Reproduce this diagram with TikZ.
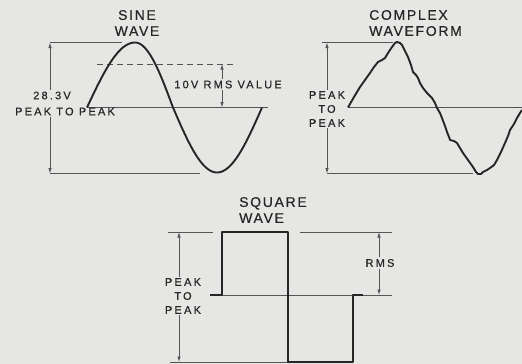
\documentclass[tikz,border=0pt]{standalone}
\usepackage{fontspec}
\setmainfont{Liberation Sans}[LetterSpace=20, FakeBold=0.4]
\usetikzlibrary{arrows.meta}
\definecolor{bg}{RGB}{230,230,228}
\definecolor{ink}{RGB}{38,38,38}
\definecolor{thinc}{RGB}{85,85,85}
\begin{document}
\begin{tikzpicture}[x=1pt,y=-1pt,
  wave/.style={ink, line width=1.9pt, line join=round},
  guide/.style={thinc, line width=0.8pt},
  dim/.style={thinc, line width=0.8pt, -{Latex[length=5.5pt,width=3.5pt]}},
  lbl/.style={text=ink, font=\fontsize{11}{14}\selectfont, inner sep=1.5pt, align=center},
  ttl/.style={text=ink, font=\fontsize{14}{16}\selectfont\addfontfeature{LetterSpace=12}, inner sep=0pt}]
\fill[bg] (0,0) rectangle (522,364);
\useasboundingbox (0,0) rectangle (522,364);
% ---------- sine wave ----------
\node[ttl, align=center] (sinet) at (137,23) {SINE\\WAVE};
\coordinate (sTopL) at (50,42.5); \coordinate (sTopR) at (122,42.5);
\coordinate (sBotL) at (50,173.5); \coordinate (sBotR) at (200,173.5);
\coordinate (sZ0) at (87,107.5); \coordinate (sZ1) at (268,107.5);
\coordinate (sD0) at (97,64); \coordinate (sD1) at (237,64);
\coordinate (sRmsT) at (222,64); \coordinate (sRmsB) at (222,107.5);
\draw[guide] (sTopL) -- (sTopR);
\draw[guide] (sBotL) -- (sBotR);
\draw[guide] (sZ0) -- (sZ1);
\draw[guide, dash pattern=on 6pt off 4pt] (sD0) -- (sD1);
\node[lbl] (v283) at (52,95.5) {28.3V};
\node[lbl] (ptp1) at (65,111.5) {PEAK TO PEAK};
\draw[dim] (v283.north -| sTopL) -- (sTopL);
\draw[dim] (ptp1.south -| sBotL) -- (sBotL);
\node[lbl] (rms10) at (228,84.5) {10V RMS VALUE};
\draw[dim] (rms10.north -| sRmsT) -- (sRmsT);
\draw[dim] (rms10.south -| sRmsB) -- (sRmsB);
\draw[wave] plot[domain=0:90,samples=30] ({87+\x*48/90},{107.5-65*sin(\x)})
  -- plot[domain=90:180,samples=30] ({135+(\x-90)*38/90},{107.5-65*sin(\x)})
  -- plot[domain=180:270,samples=30] ({173+(\x-180)*44/90},{107.5-65*sin(\x)})
  -- plot[domain=270:360,samples=30] ({217+(\x-270)*45/90},{107.5-65*sin(\x)});
% ---------- complex waveform ----------
\node[ttl, align=left, anchor=west] (cplxt) at (369,23) {COMPLEX\\WAVEFORM};
\coordinate (cTopL) at (322,42.5); \coordinate (cTopR) at (393,42.5);
\coordinate (cArrT) at (327,42.5);
\coordinate (cBotL) at (327,173.5); \coordinate (cBotR) at (473,173.5);
\coordinate (cZ0) at (348,107.5); \coordinate (cZ1) at (522,107.5);
\draw[guide] (cTopL) -- (cTopR);
\draw[guide] (cBotL) -- (cBotR);
\draw[guide] (cZ0) -- (cZ1);
\node[lbl] (ptp2) at (327,109) {PEAK\\TO\\PEAK};
\draw[dim] (ptp2.north -| cArrT) -- (cArrT);
\draw[dim] (ptp2.south -| cBotL) -- (cBotL);
\draw[wave] plot coordinates {(348,107.5) (354,97) (360,87) (365,80) (370,73) (374,67) (378,62) (382,60) (385,58)
  (388,53) (392,47) (395,43) (397,42) (400,43) (402,45) (405,51) (408,57) (411,65) (413,72) (416,75) (418,78)
  (420,83) (423,88) (427,93) (432,98) (435,103) (437,108) (440,113) (442,118) (445,126) (447,132) (449,137)
  (450,140) (454,141) (457,143) (460,148) (463,153) (468,160) (473,167) (476,172) (478,174) (481,174) (483,172)
  (487,170) (490,168) (494,165) (497,160) (501,152) (505,143) (508,136) (510,130) (514,124) (517,118) (520,113) (522,110)};
% ---------- square wave ----------
\node[ttl, align=left, anchor=west] (sqt) at (239,210) {SQUARE\\WAVE};
\coordinate (qTopA) at (168,232); \coordinate (qTopB) at (213,232);
\coordinate (qTopC) at (300,232); \coordinate (qTopD) at (392,232);
\coordinate (qArrT) at (179,232); \coordinate (qArrB) at (179,362);
\coordinate (qZ0) at (210,295); \coordinate (qZ1) at (392,295);
\coordinate (qBotL) at (170,362); \coordinate (qBotR) at (288,362);
\coordinate (qRmsT) at (379,232); \coordinate (qRmsB) at (379,295);
\draw[guide] (qTopA) -- (qTopB);
\draw[guide] (qTopC) -- (qTopD);
\draw[guide] (qZ0) -- (qZ1);
\draw[guide] (qBotL) -- (qBotR);
\node[lbl] (ptp3) at (183,296) {PEAK\\TO\\PEAK};
\draw[dim] (ptp3.north -| qArrT) -- (qArrT);
\draw[dim] (ptp3.south -| qArrB) -- (qArrB);
\node[lbl] (rmsq) at (380,263) {RMS};
\draw[dim] (rmsq.north -| qRmsT) -- (qRmsT);
\draw[dim] (rmsq.south -| qRmsB) -- (qRmsB);
\draw[wave] (210,295) -- (222,295) -- (222,232) -- (288,232) -- (288,362) -- (353,362) -- (353,295) -- (363,295);
\end{tikzpicture}
\end{document}
